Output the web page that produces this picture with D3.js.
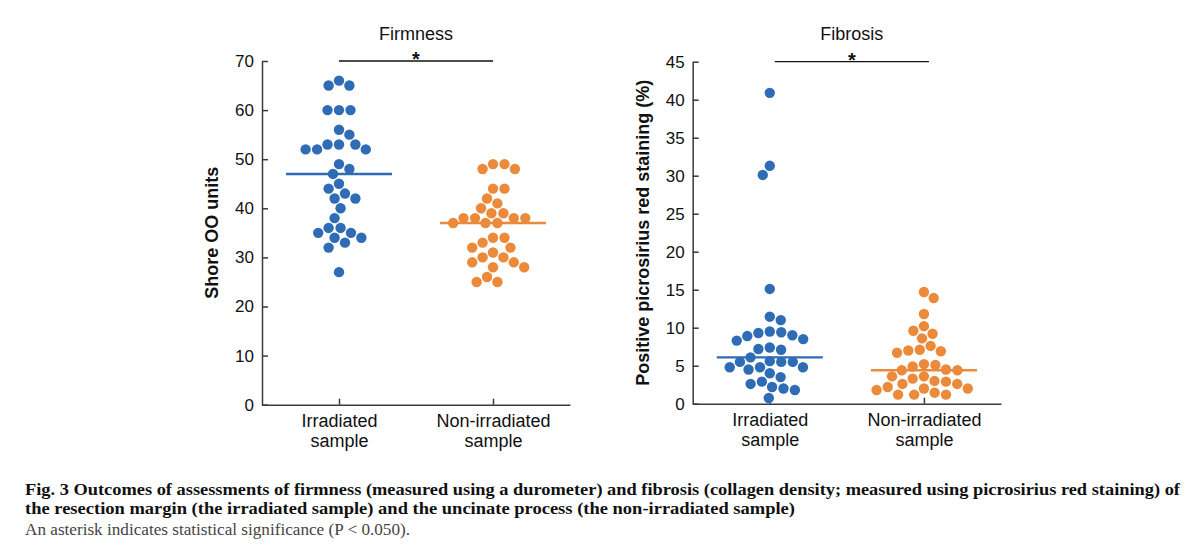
<!DOCTYPE html>
<html>
<head>
<meta charset="utf-8">
<script src="https://cdn.jsdelivr.net/npm/d3@7"></script>
<style>
  body { margin: 0; background: #fff; }
</style>
</head>
<body>
<div id="chart"></div>
<script>
// data
const categories = ["Irradiated sample", "Non-irradiated sample"];
const panelTitles = ["Firmness", "Fibrosis"];
const yLabels = ["Shore OO units", "Positive picrosirius red staining (%)"];
const sigMarks = ["*", "*"];

const firmTicks = [0, 10, 20, 30, 40, 50, 60, 70];
const fibTicks = [0, 5, 10, 15, 20, 25, 30, 35, 40, 45];

const firmIrradiated = [65, 65, 66, 60, 60, 60, 56, 55, 53, 52, 52, 53, 52, 53, 49, 48, 47,
  45, 43, 44, 42, 42, 40, 38, 36, 36, 35, 35, 34, 34, 33, 32, 27];
const firmNonIrradiated = [49, 48, 48, 49, 44, 44, 42, 41, 40, 39, 39, 38, 38, 38, 38, 37, 37,
  37, 34, 34, 33, 32, 32, 30, 30, 31, 29, 29, 28, 28, 26, 25, 25];
const fibIrradiated = [40.9, 31.3, 30.1, 15.1, 11.0, 11.45, 9.0, 9.4, 9.5, 9.3, 8.5, 8.9, 8.3,
  7.2, 7.1, 7.4, 6.1, 5.5, 5.6, 5.5, 5.5, 4.8, 4.8, 4.8, 4.5, 4.0, 3.5, 2.6, 2.9, 2.0, 1.8, 2.2, 0.75];
const fibNonIrradiated = [14.7, 13.9, 11.8, 10.2, 9.6, 9.2, 8.6, 7.6, 7.1, 6.7, 6.9, 7.0, 5.1,
  4.4, 4.5, 4.9, 5.2, 4.4, 3.6, 3.3, 3.6, 2.9, 2.6, 3.0, 2.6, 1.8, 2.0, 2.0, 2.2, 1.2, 1.2, 1.2, 1.45];

const captionLines = [
  "Fig. 3 Outcomes of assessments of firmness (measured using a durometer) and fibrosis (collagen density; measured using picrosirius red staining) of",
  "the resection margin (the irradiated sample) and the uncinate process (the non-irradiated sample)"
];
const captionNote = "An asterisk indicates statistical significance (P < 0.050).";

// styling
const W = 1200, H = 557;
const colors = ["#2e6cb5", "#ec8a3c"];
const axisColor = "#3a3a3a";
const font = "'Liberation Sans', Arial, sans-serif";
const dotR = 5.2;

const panels = [
  { left: 262, right: 570, top: 61, bottom: 404.7, ticks: firmTicks,
    groups: [firmIrradiated, firmNonIrradiated], barShift: 0 },
  { left: 692.7, right: 1001, top: 61.7, bottom: 403.7, ticks: fibTicks,
    groups: [fibIrradiated, fibNonIrradiated], barShift: 5 }
];

const svg = d3.select("#chart").append("svg")
  .attr("width", W)
  .attr("height", H)
  .style("background", "#fff");

// beeswarm: each point goes as close to the centre as it can without overlap
function swarm(values, y, minDist) {
  const order = d3.range(values.length).sort((a, b) => values[b] - values[a]);
  const placed = [];
  const off = new Array(values.length);
  order.forEach((i, n) => {
    const yi = y(values[i]);
    const sign = n % 2 ? 1 : -1;
    const blocks = placed
      .filter(p => Math.abs(p.y - yi) < minDist)
      .map(p => {
        const h = Math.sqrt(minDist * minDist - (p.y - yi) * (p.y - yi));
        return [p.x - h, p.x + h];
      });
    const cands = [0];
    blocks.forEach(b => cands.push(b[0], b[1]));
    cands.sort((a, b) => {
      const d = Math.abs(a) - Math.abs(b);
      return Math.abs(d) > 0.5 ? d : sign * (b - a);
    });
    const xo = cands.find(c => blocks.every(b => c <= b[0] + 1e-6 || c >= b[1] - 1e-6));
    off[i] = xo;
    placed.push({ x: xo, y: yi });
  });
  return off;
}

panels.forEach((p, pi) => {
  const x = d3.scalePoint()
    .domain(categories)
    .range([p.left, p.right])
    .padding(0.5);
  const y = d3.scaleLinear()
    .domain([0, d3.max(p.ticks)])
    .range([p.bottom, p.top]);

  const g = svg.append("g");

  // y axis
  g.append("g")
    .attr("transform", "translate(" + p.left + ",0)")
    .call(d3.axisLeft(y).tickValues(p.ticks).tickSizeInner(-6).tickSizeOuter(0).tickPadding(8))
    .call(a => {
      a.select(".domain").attr("stroke", axisColor).attr("stroke-width", 1.5);
      a.selectAll(".tick line").attr("stroke", axisColor).attr("stroke-width", 1.5);
      a.selectAll(".tick text")
        .attr("font-family", font)
        .attr("font-size", 17)
        .attr("fill", "#111");
    });

  // x axis
  g.append("g")
    .attr("transform", "translate(0," + p.bottom + ")")
    .call(d3.axisBottom(x).tickSizeInner(-6).tickSizeOuter(0))
    .call(a => {
      a.select(".domain").attr("stroke", axisColor).attr("stroke-width", 1.5);
      a.selectAll(".tick line").attr("stroke", axisColor).attr("stroke-width", 1.5);
      a.selectAll(".tick text").each(function(d) {
        const t = d3.select(this).text(null)
          .attr("y", 0).attr("dy", null)
          .attr("font-family", font)
          .attr("font-size", 18)
          .attr("fill", "#111");
        const cut = d.lastIndexOf(" ");
        t.append("tspan").attr("x", 0).attr("y", 22).text(d.slice(0, cut));
        t.append("tspan").attr("x", 0).attr("y", 42.5).text(d.slice(cut + 1));
      });
    });

  // y label
  g.append("text")
    .attr("transform", "translate(" + (p.left - 50) + "," + ((p.top + p.bottom) / 2) + ") rotate(-90)")
    .attr("text-anchor", "middle")
    .attr("dy", "0.35em")
    .attr("font-family", font)
    .attr("font-size", 18)
    .attr("font-weight", "bold")
    .attr("fill", "#111")
    .text(yLabels[pi]);

  // significance bar, asterisk, title
  const bx0 = x(categories[0]) + p.barShift, bx1 = x(categories[1]) + p.barShift;
  g.append("line")
    .attr("x1", bx0).attr("x2", bx1)
    .attr("y1", p.top).attr("y2", p.top)
    .attr("stroke", "#111").attr("stroke-width", 1.3);
  g.append("text")
    .attr("x", (bx0 + bx1) / 2).attr("y", p.top + 5)
    .attr("text-anchor", "middle")
    .attr("font-family", font).attr("font-size", 20)
    .attr("font-weight", "bold")
    .attr("fill", "#111")
    .text(sigMarks[pi]);
  g.append("text")
    .attr("x", (bx0 + bx1) / 2).attr("y", 40)
    .attr("text-anchor", "middle")
    .attr("font-family", font).attr("font-size", 18)
    .attr("fill", "#111")
    .text(panelTitles[pi]);

  // dots and median lines
  p.groups.forEach((vals, gi) => {
    const cx = x(categories[gi]);
    const offs = swarm(vals, y, 11.5);
    g.append("g").selectAll("circle")
      .data(vals)
      .enter()
      .append("circle")
        .attr("cx", (d, i) => cx + offs[i])
        .attr("cy", d => y(d))
        .attr("r", dotR)
        .attr("fill", colors[gi]);

    const med = d3.median(vals);
    g.append("line")
      .attr("x1", cx - 53).attr("x2", cx + 53)
      .attr("y1", y(med)).attr("y2", y(med))
      .attr("stroke", colors[gi])
      .attr("stroke-width", 2.4);
  });
});

// caption
const capFont = "'Liberation Serif', 'Times New Roman', serif";
const capWidths = [1155, 770];
captionLines.forEach((line, i) => {
  svg.append("text")
    .attr("x", 25).attr("y", 495 + i * 19)
    .attr("font-family", capFont)
    .attr("font-size", 16.5)
    .attr("font-weight", "bold")
    .attr("fill", "#111")
    .attr("textLength", capWidths[i])
    .attr("lengthAdjust", "spacingAndGlyphs")
    .text(line);
});
svg.append("text")
  .attr("x", 25).attr("y", 535)
  .attr("font-family", capFont)
  .attr("font-size", 16.5)
  .attr("fill", "#444")
  .attr("textLength", 385)
  .attr("lengthAdjust", "spacingAndGlyphs")
  .text(captionNote);
</script>
</body>
</html>
